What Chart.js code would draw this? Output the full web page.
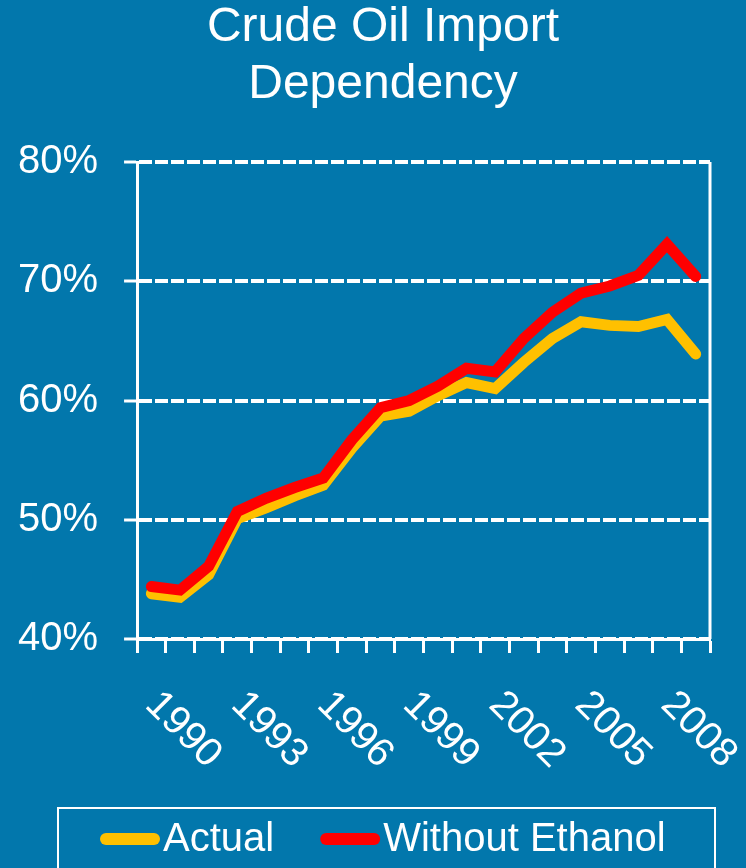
<!DOCTYPE html>
<html>
<head>
<meta charset="utf-8">
<script src="https://cdn.jsdelivr.net/npm/chart.js@4.4.1/dist/chart.umd.min.js"></script>
<style>
  html, body { margin: 0; padding: 0; background: #0277ac; }
  canvas { display: block; }
</style>
</head>
<body>
<canvas id="myChart" width="746" height="868"></canvas>
<script>
// data (percent of crude oil that is imported)
const years = ['1989', '1990', '1991', '1992', '1993', '1994', '1995', '1996', '1997', '1998',
               '1999', '2000', '2001', '2002', '2003', '2004', '2005', '2006', '2007', '2008'];
const actual = [43.8, 43.5, 45.4, 50.1, 51.0, 52.0, 52.9, 56.0, 58.7, 59.1,
                60.4, 61.5, 61.0, 63.2, 65.2, 66.6, 66.3, 66.2, 66.8, 63.9];
const withoutEthanol = [44.4, 44.1, 46.1, 50.7, 51.8, 52.7, 53.5, 56.7, 59.4, 60.0,
                        61.2, 62.7, 62.4, 65.2, 67.4, 69.0, 69.6, 70.5, 73.1, 70.4];
const shownYears = ['1990', '1993', '1996', '1999', '2002', '2005', '2008'];
const titleLines = ['Crude Oil Import', 'Dependency'];

const FONT = "'Liberation Sans', Arial, sans-serif";
const BG = '#0277ac';

// background, title, rotated year labels, frame and legend box
const extras = {
    id: 'extras',
    beforeDraw(chart) {
        const ctx = chart.ctx;
        ctx.save();
        ctx.fillStyle = BG;
        ctx.fillRect(0, 0, chart.width, chart.height);
        ctx.restore();
    },
    afterDraw(chart) {
        const ctx = chart.ctx;
        const a = chart.chartArea;
        const xs = chart.scales.x;
        ctx.save();

        // title
        ctx.fillStyle = '#fff';
        ctx.font = '48px ' + FONT;
        ctx.textAlign = 'center';
        ctx.textBaseline = 'middle';
        titleLines.forEach((t, i) => ctx.fillText(t, 383, 28 + i * 57));

        // right frame
        ctx.strokeStyle = '#fff';
        ctx.lineWidth = 3;
        ctx.beginPath();
        ctx.moveTo(a.right, a.top);
        ctx.lineTo(a.right, a.bottom);
        ctx.stroke();

        // year labels, turned clockwise
        ctx.font = '40px ' + FONT;
        years.forEach((yr, i) => {
            if (!shownYears.includes(yr)) return;
            ctx.save();
            ctx.translate(xs.getPixelForValue(i) + 3, a.bottom + 91);
            ctx.rotate(Math.PI / 4);
            ctx.fillText(yr, 0, 0);
            ctx.restore();
        });

        // legend
        ctx.lineWidth = 2;
        ctx.strokeRect(58, 808, 657, 120);
        let lx = 100;
        const ly = 839;
        ctx.textAlign = 'left';
        chart.data.datasets.forEach(ds => {
            ctx.strokeStyle = ds.borderColor;
            ctx.lineWidth = 12;
            ctx.lineCap = 'round';
            ctx.beginPath();
            ctx.moveTo(lx + 6, ly);
            ctx.lineTo(lx + 54, ly);
            ctx.stroke();
            ctx.fillText(ds.label, lx + 63, ly + 1);
            lx += 63 + ctx.measureText(ds.label).width + 46;
        });
        ctx.restore();
    }
};

const ctx = document.getElementById('myChart').getContext('2d');
const myChart = new Chart(ctx, {
    type: 'line',
    data: {
        labels: years,
        datasets: [{
            label: 'Actual',
            data: actual,
            borderColor: '#ffc000',
            borderWidth: 11,
            borderCapStyle: 'round',
            pointRadius: 0,
            tension: 0,
            order: 1
        }, {
            label: 'Without Ethanol',
            data: withoutEthanol,
            borderColor: '#ff0000',
            borderWidth: 11,
            borderCapStyle: 'round',
            pointRadius: 0,
            tension: 0,
            order: 0
        }]
    },
    options: {
        responsive: false,
        animation: false,
        layout: { padding: { top: 162, left: -8, right: 36, bottom: 215 } },
        plugins: {
            legend: { display: false },
            title: { display: false },
            tooltip: { enabled: false }
        },
        scales: {
            x: {
                offset: true,
                grid: {
                    offset: true,
                    drawOnChartArea: false,
                    drawTicks: true,
                    tickLength: 14,
                    tickColor: '#fff',
                    tickWidth: 3
                },
                border: { color: '#fff', width: 3 },
                ticks: { display: false }
            },
            y: {
                min: 40,
                max: 80,
                grid: {
                    color: '#fff',
                    lineWidth: 4,
                    tickLength: 13,
                    tickColor: '#fff',
                    tickWidth: 3
                },
                border: { color: '#fff', width: 3, dash: [13, 3] },
                ticks: {
                    stepSize: 10,
                    padding: 26,
                    color: '#fff',
                    font: { family: FONT, size: 40 },
                    callback: v => v + '%'
                }
            }
        }
    },
    plugins: [extras]
});
</script>
</body>
</html>
